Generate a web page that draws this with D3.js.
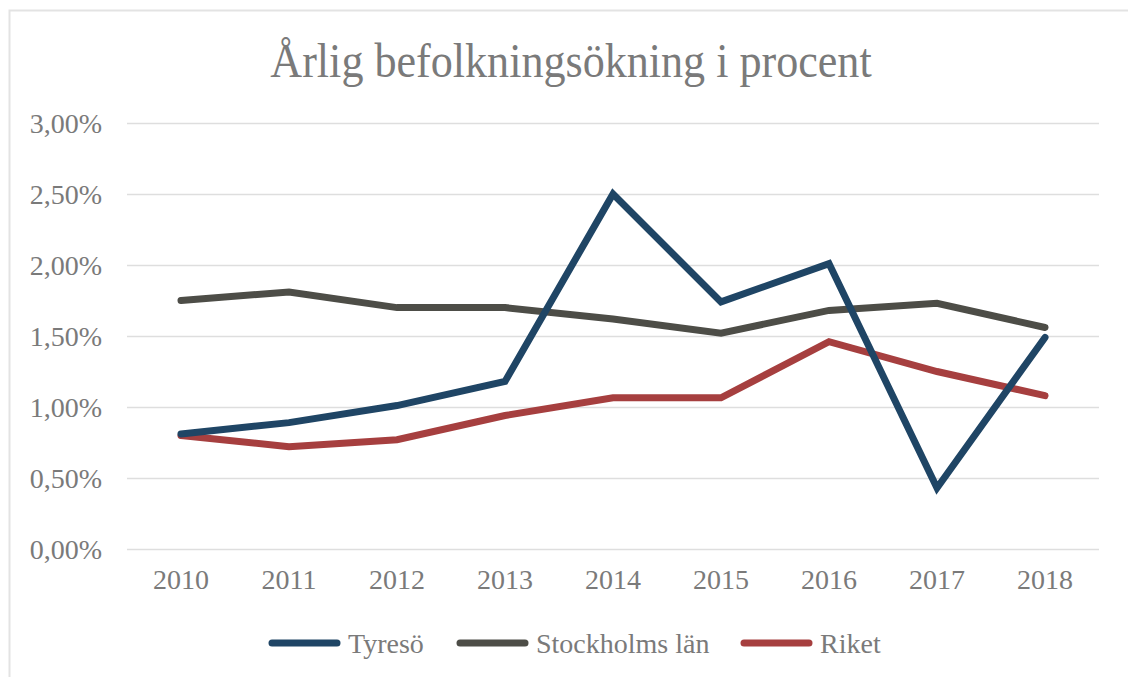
<!DOCTYPE html>
<html><head><meta charset="utf-8">
<script src="https://cdn.jsdelivr.net/npm/d3@7"></script>
<style>body{margin:0;background:#fff}svg{display:block}text{font-family:"Liberation Serif","Times New Roman",serif;fill:#7a7a7a}</style>
</head><body><svg id="c" width="1128" height="677"></svg>
<script>
const years = ["2010","2011","2012","2013","2014","2015","2016","2017","2018"];
const tyreso = [0.81,0.89,1.01,1.18,2.50,1.74,2.01,0.43,1.49];
const stockholm = [1.75,1.81,1.70,1.70,1.62,1.52,1.68,1.73,1.56];
const riket = [0.80,0.72,0.77,0.94,1.065,1.065,1.46,1.25,1.08];
const yTicks = [0,0.5,1,1.5,2,2.5,3];
const seriesNames = ["Tyresö","Stockholms län","Riket"];
const colors = ["#1f4565","#4d4d47","#a63f3f"];

const svg = d3.select("#c");
svg.append("rect").attr("x",9.5).attr("y",10.5).attr("width",1200).attr("height",700)
  .attr("fill","none").attr("stroke","#e3e3e3").attr("stroke-width",2);

svg.append("text").attr("transform","translate(571,77) scale(0.9,1)").attr("text-anchor","middle")
  .style("font-size","49px").text("Årlig befolkningsökning i procent");

const x = d3.scaleBand().domain(years).range([127,1099]);
const y = d3.scaleLinear().domain([0,3]).range([549,123]);

const gy = svg.append("g").attr("transform","translate(127,0)")
  .call(d3.axisLeft(y).tickValues(yTicks).tickSize(-972).tickPadding(25)
    .tickFormat(d => d.toFixed(2).replace(".",",") + "%"));
gy.select(".domain").remove();
gy.selectAll("line").attr("stroke","#dedede").attr("stroke-width",1.5);
gy.selectAll("text").style("font-size","28px").attr("fill","#7a7a7a").attr("dy","0.35em");

const gx = svg.append("g").attr("transform","translate(0,549)")
  .call(d3.axisBottom(x).tickSize(0).tickPadding(19));
gx.select(".domain").remove();
gx.selectAll("text").style("font-size","28px").attr("fill","#7a7a7a").attr("dy","0.75em");

const data = [tyreso, stockholm, riket];
const line = d3.line().x((d,i)=>x(years[i])+x.bandwidth()/2).y(d=>y(d));
[1,2,0].forEach(k=>{
  svg.append("path").attr("d",line(data[k])).attr("fill","none")
    .attr("stroke",colors[k]).attr("stroke-width",7).attr("stroke-linecap","round").attr("stroke-linejoin","miter");
});

const legX = [272,460,744];
seriesNames.forEach((n,i)=>{
  const g = svg.append("g").attr("transform",`translate(${legX[i]},643)`);
  g.append("line").attr("x1",0).attr("x2",65).attr("stroke",colors[i]).attr("stroke-width",7).attr("stroke-linecap","round");
  g.append("text").attr("x",76).attr("y",0).attr("dy","0.35em").style("font-size","28px").text(n);
});
</script></body></html>
